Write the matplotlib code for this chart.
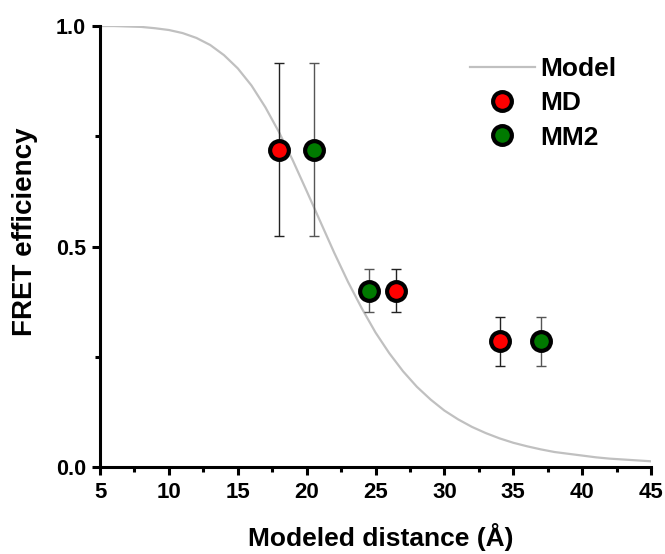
import matplotlib.pyplot as plt
from matplotlib.ticker import MultipleLocator

# Model curve, read along the distance axis (Å)
model_r = list(range(5, 46))
model_e = [1.000, 1.000, 0.999, 0.998, 0.995, 0.991, 0.984, 0.973, 0.957, 0.934,
           0.904, 0.865, 0.816, 0.759, 0.695, 0.626, 0.556, 0.486, 0.420, 0.360,
           0.305, 0.258, 0.217, 0.182, 0.153, 0.128, 0.108, 0.091, 0.077, 0.065,
           0.055, 0.047, 0.040, 0.034, 0.030, 0.026, 0.022, 0.019, 0.017, 0.015,
           0.013]

# measured FRET efficiencies vs modeled distances
efret = [0.72, 0.40, 0.285]
efret_err = [0.197, 0.048, 0.055]
md_dist = [18.0, 26.5, 34.0]
mm2_dist = [20.5, 24.5, 37.0]

plt.rcParams['font.family'] = ['Liberation Sans', 'DejaVu Sans']
plt.rcParams['font.weight'] = 'bold'

fig = plt.figure(figsize=(6.65, 5.54), dpi=100)
ax = fig.add_axes([0.1504, 0.157, 0.8286, 0.796])

ax.plot(model_r, model_e, color='#c0c0c0', lw=1.6, label='Model', zorder=1)

ax.errorbar(md_dist, efret, yerr=efret_err, fmt='none', ecolor='#222222',
            elinewidth=1.0, capsize=3.5, capthick=1.0, zorder=2)
ax.errorbar(mm2_dist, efret, yerr=efret_err, fmt='none', ecolor='#555555',
            elinewidth=1.0, capsize=3.5, capthick=1.0, zorder=2)
ax.plot(md_dist, efret, 'o', ms=13.5, mfc='#ff0000', mec='black', mew=3,
        ls='none', label='MD', zorder=3)
ax.plot(mm2_dist, efret, 'o', ms=13.5, mfc='#007a00', mec='black', mew=3,
        ls='none', label='MM2', zorder=3)

ax.set_xlim(5, 45)
ax.set_ylim(0, 1)
ax.xaxis.set_major_locator(MultipleLocator(5))
ax.xaxis.set_minor_locator(MultipleLocator(2.5))
ax.yaxis.set_minor_locator(MultipleLocator(0.25))
ax.set_yticks([0, 0.5, 1.0])
ax.set_yticklabels(['0.0', '0.5', '1.0'])

for s in ['top', 'right']:
    ax.spines[s].set_visible(False)
for s in ['left', 'bottom']:
    ax.spines[s].set_linewidth(2.2)
ax.tick_params(which='major', length=6, width=2.2)
ax.tick_params(which='minor', length=3.5, width=2.2)
ax.tick_params(axis='x', pad=5, labelsize=16)
ax.tick_params(axis='y', pad=4, labelsize=15.5)

ax.set_xlabel('Modeled distance (Å)', fontsize=19, fontweight='bold')
ax.set_ylabel('FRET efficiency', fontsize=20, fontweight='bold')
ax.xaxis.set_label_coords(0.509, -0.127)
ax.yaxis.set_label_coords(-0.1125, 0.533)

fig.legend(*ax.get_legend_handles_labels(), loc='upper left',
           bbox_to_anchor=(0.7068, 0.897), bbox_transform=fig.transFigure,
           frameon=False, borderpad=0, borderaxespad=0, handlelength=2.45,
           handletextpad=0.2, labelspacing=0.39,
           prop={'weight': 'bold', 'size': 19})

fig.savefig('out.png', dpi=100)
